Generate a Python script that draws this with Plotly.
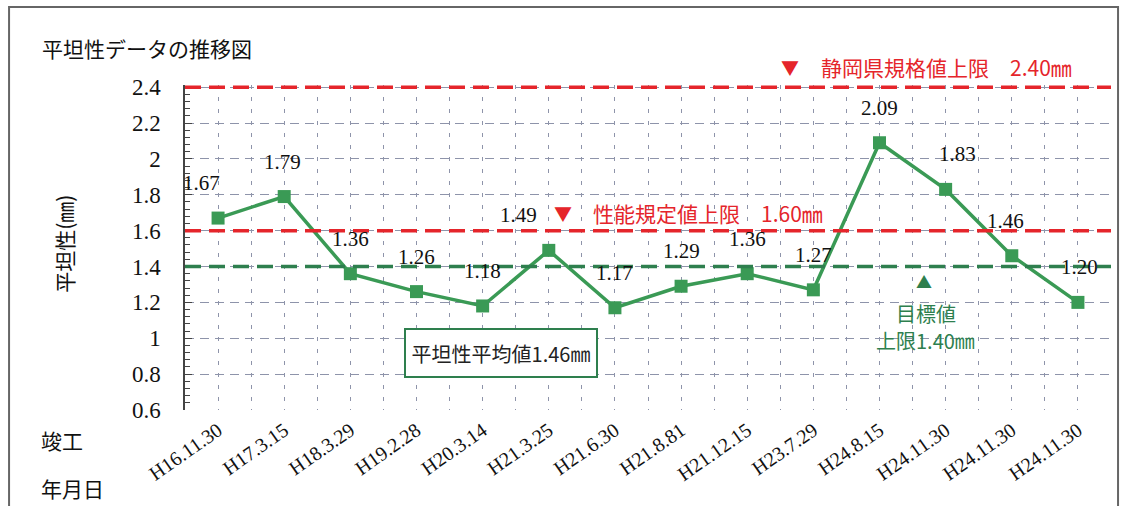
import plotly.graph_objects as go

dates = ["H16.11.30", "H17.3.15", "H18.3.29", "H19.2.28", "H20.3.14", "H21.3.25", "H21.6.30",
         "H21.8.81", "H21.12.15", "H23.7.29", "H24.8.15", "H24.11.30", "H24.11.30", "H24.11.30"]
flatness = [1.67, 1.79, 1.36, 1.26, 1.18, 1.49, 1.17, 1.29, 1.36, 1.27, 2.09, 1.83, 1.46, 1.20]
y_ticks = [0.6, 0.8, 1.0, 1.2, 1.4, 1.6, 1.8, 2.0, 2.2, 2.4]
y_ticktext = ["0.6", "0.8", "1", "1.2", "1.4", "1.6", "1.8", "2", "2.2", "2.4"]
pref_limit = 2.40
perf_limit = 1.60
target_limit = 1.40
average = 1.46

title = "平坦性データの推移図"
y_title = "平坦性(㎜)"
x_title1 = "竣工"
x_title2 = "年月日"
pref_text = "静岡県規格値上限　2.40㎜"
perf_text = "性能規定値上限　1.60㎜"
target_text1 = "目標値"
target_text2 = "上限1.40㎜"
avg_text = "平坦性平均値1.46㎜"

SERIF = "Liberation Serif, Noto Sans CJK JP"
CJK = "Noto Sans CJK JP, Liberation Serif"
RED = "#e5252b"
GREEN = "#3a9a55"
DGREEN = "#2e7f4e"
GRID = "#8e94aa"

xs = list(range(len(dates)))
label_dx = [-17, -2, 0, 0, 0, -30, 0, 0, 0, 0, 0, 12, -6, 2]

fig = go.Figure()

# reference limit lines
for val, col in [(pref_limit, RED), (perf_limit, RED), (target_limit, DGREEN)]:
    fig.add_shape(type="line", xref="paper", x0=0, x1=1, yref="y", y0=val, y1=val,
                  line=dict(color=col, width=3.5, dash="16px,8px"), layer="above")

fig.add_trace(go.Scatter(
    x=xs, y=flatness, mode="lines+markers",
    line=dict(color=GREEN, width=3.5),
    marker=dict(symbol="square", size=13, color=GREEN),
    hoverinfo="skip", showlegend=False, cliponaxis=False))

for i, v in enumerate(flatness):
    fig.add_annotation(x=xs[i], y=v, text=f"{v:.2f}", showarrow=False,
                       yshift=35, xshift=label_dx[i],
                       font=dict(family=SERIF, size=21, color="#111"))

# limit annotations
fig.add_annotation(x=8.65, y=pref_limit, text="▼", showarrow=False, yshift=20,
                   font=dict(family=CJK, size=18, color=RED))
fig.add_annotation(x=9.09, y=pref_limit, text=pref_text, showarrow=False, yshift=20,
                   xanchor="left", font=dict(family=CJK, size=21, color=RED))
fig.add_annotation(x=5.22, y=perf_limit, text="▼", showarrow=False, yshift=18,
                   font=dict(family=CJK, size=18, color=RED))
fig.add_annotation(x=5.64, y=perf_limit, text=perf_text, showarrow=False, yshift=18,
                   xanchor="left", font=dict(family=CJK, size=21, color=RED))
fig.add_annotation(x=10.67, y=target_limit, text="▲", showarrow=False, yshift=-14,
                   font=dict(family=CJK, size=16, color=DGREEN))
fig.add_annotation(x=10.70, y=target_limit, text=target_text1, showarrow=False, yshift=-47,
                   font=dict(family=CJK, size=20, color=DGREEN))
fig.add_annotation(x=10.70, y=target_limit, text=target_text2, showarrow=False, yshift=-74,
                   font=dict(family=CJK, size=20, color=DGREEN))
fig.add_annotation(x=4.28, y=0.917, text=avg_text, showarrow=False,
                   width=188, height=44, bgcolor="white",
                   bordercolor=DGREEN, borderwidth=2,
                   font=dict(family=CJK, size=20, color="#222"))

# titles
fig.add_annotation(xref="paper", yref="paper", x=-0.1566, y=1.115, text=title,
                   showarrow=False, xanchor="left", yanchor="middle",
                   font=dict(family=CJK, size=21, color="#111"))
fig.add_annotation(xref="paper", yref="paper", x=-0.13, y=0.51, text=y_title, textangle=-90,
                   showarrow=False, xanchor="center", yanchor="middle",
                   font=dict(family=CJK, size=21, color="#111"))
fig.add_annotation(xref="paper", yref="paper", x=-0.158, y=-0.093, text=x_title1,
                   showarrow=False, xanchor="left", yanchor="middle",
                   font=dict(family=CJK, size=21, color="#111"))
fig.add_annotation(xref="paper", yref="paper", x=-0.158, y=-0.241, text=x_title2,
                   showarrow=False, xanchor="left", yanchor="middle",
                   font=dict(family=CJK, size=21, color="#111"))

# outer border
fig.add_shape(type="rect", xref="paper", yref="paper", x0=-0.19, x1=1.0076, y0=-0.31, y1=1.24,
              line=dict(color="#666", width=2), layer="below")

fig.update_layout(
    width=1123, height=506,
    margin=dict(l=185, r=12, t=85, b=96),
    paper_bgcolor="white", plot_bgcolor="white",
    showlegend=False,
)
fig.update_xaxes(
    range=[-0.5, 13.5], tickvals=xs, ticktext=dates, tickangle=-35,
    tickfont=dict(family=SERIF, size=20, color="#111"),
    showgrid=True, gridcolor=GRID, griddash="4px,8px", gridwidth=1,
    minor=dict(tick0=-0.5, dtick=1, showgrid=True, gridcolor=GRID, griddash="4px,8px", gridwidth=1),
    zeroline=False, showline=False, ticks="", ticklabelstandoff=4,
)
fig.update_yaxes(
    range=[0.6, 2.412], tickvals=y_ticks, ticktext=y_ticktext,
    tickfont=dict(family=SERIF, size=23, color="#111"),
    showgrid=True, gridcolor=GRID, griddash="9px,6px", gridwidth=1.2,
    zeroline=False, showline=True, linecolor="#444", linewidth=1.5,
    ticks="inside", ticklen=7, tickcolor="#444",
    minor=dict(dtick=0.04, ticks="inside", ticklen=5, tickcolor="#444", showgrid=False),
    ticklabelstandoff=18,
)

fig.write_html("out.html")
